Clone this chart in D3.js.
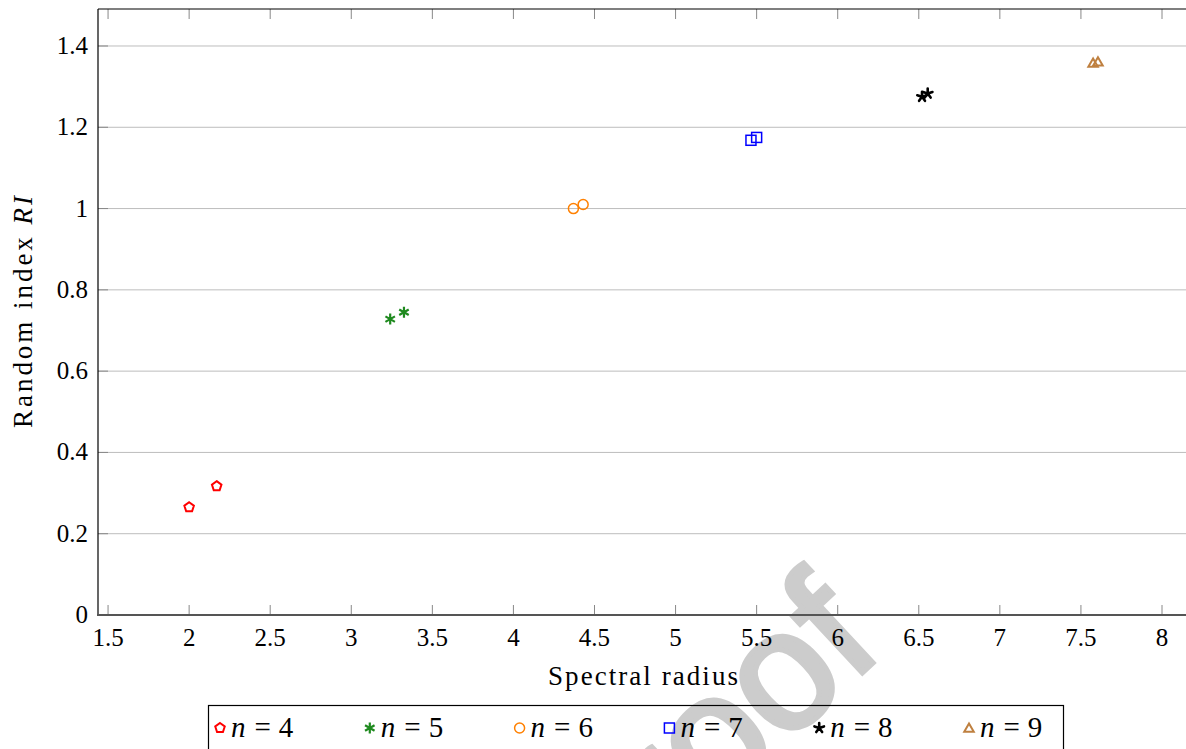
<!DOCTYPE html>
<html>
<head>
<meta charset="utf-8">
<script src="https://cdn.jsdelivr.net/npm/d3@7"></script>
<style>
body { margin: 0; background: #fff; }
text { font-family: "Liberation Serif", "DejaVu Serif", serif; }
</style>
</head>
<body>
<script>

// chart data
var nValues = [4, 5, 6, 7, 8, 9]
var radiusValues = [
	[2.00, 2.17],
	[3.24, 3.325],
	[4.37, 4.43],
	[5.465, 5.50],
	[6.52, 6.555],
	[7.575, 7.605]
]
var riValues = [
	[0.265, 0.317],
	[0.728, 0.745],
	[1.00, 1.01],
	[1.168, 1.175],
	[1.275, 1.283],
	[1.358, 1.361]
]
var xTicks = [1.5, 2, 2.5, 3, 3.5, 4, 4.5, 5, 5.5, 6, 6.5, 7, 7.5, 8]
var yTicks = [0, 0.2, 0.4, 0.6, 0.8, 1, 1.2, 1.4]

var colors = ["#ff0000", "#1f8a1f", "#ff8000", "#0000ff", "#000000", "#bf8040"]
var markKinds = ["pentagon", "asterisk", "circle", "square", "star", "triangle"]

var W = 1186, H = 749

var x = d3.scaleLinear().domain([1.438, 8.148]).range([98, 1186])
var y = d3.scaleLinear().domain([0, 1.491]).range([615, 9])

function polyPath(n, r, rot){
	var pts = []
	for (var k = 0; k < n; k++){
		var a = (rot + k * 360 / n) * Math.PI / 180
		pts.push([r * Math.cos(a), r * Math.sin(a)])
	}
	return "M" + pts.map(function(p){ return p[0].toFixed(2) + "," + p[1].toFixed(2) }).join("L") + "Z"
}
function spokePath(n, r, rot, both){
	var s = ""
	for (var k = 0; k < n; k++){
		var a = (rot + k * 360 / n) * Math.PI / 180
		var cx = r * Math.cos(a), cy = r * Math.sin(a)
		if (both) s += "M" + (-cx).toFixed(2) + "," + (-cy).toFixed(2) + "L" + cx.toFixed(2) + "," + cy.toFixed(2)
		else s += "M0,0L" + cx.toFixed(2) + "," + cy.toFixed(2)
	}
	return s
}

function drawMark(g, kind, color, cx, cy){
	var m = g.append("g").attr("transform", "translate(" + cx + "," + cy + ")")
	if (kind === "pentagon"){
		m.append("path").attr("d", polyPath(5, 5, -90)).style("fill", "none").style("stroke", color).style("stroke-width", 2)
	} else if (kind === "asterisk"){
		m.append("path").attr("d", spokePath(3, 5.5, 90, true)).style("stroke", color).style("stroke-width", 2.2)
	} else if (kind === "circle"){
		m.append("circle").attr("r", 5).style("fill", "none").style("stroke", color).style("stroke-width", 1.5)
	} else if (kind === "square"){
		m.append("rect").attr("x", -5).attr("y", -5).attr("width", 10).attr("height", 10).style("fill", "none").style("stroke", color).style("stroke-width", 1.5)
	} else if (kind === "star"){
		m.append("path").attr("d", spokePath(5, 5, -90, false)).style("stroke", color).style("stroke-width", 2.6).style("stroke-linecap", "round")
	} else if (kind === "triangle"){
		m.append("path").attr("d", polyPath(3, 5.5, -90)).attr("transform", "translate(0,1)").style("fill", "none").style("stroke", color).style("stroke-width", 2)
	}
}

var svg = d3.select("body").append("svg")
	.attr("width", W)
	.attr("height", H)

// watermark
svg.append("text")
	.attr("transform", "translate(592,925) rotate(-43)")
	.style("font-family", "'Liberation Sans', Arial, sans-serif")
	.style("font-size", "168px")
	.style("fill", "#cccccc")
	.style("stroke", "#cccccc")
	.style("stroke-width", 5)
	.text("Proof")

// grid
svg.selectAll("line.grid")
	.data(yTicks)
	.enter()
	.append("line")
	.attr("class", "grid")
	.attr("x1", 98).attr("x2", W)
	.attr("y1", function(d){ return y(d) })
	.attr("y2", function(d){ return y(d) })
	.style("stroke", "#bdbdbd")
	.style("stroke-width", 1)

// ticks, inward
svg.selectAll("line.xtb")
	.data(xTicks).enter().append("line").attr("class", "xtb")
	.attr("x1", function(d){ return x(d) }).attr("x2", function(d){ return x(d) })
	.attr("y1", 615).attr("y2", 605)
	.style("stroke", "#888").style("stroke-width", 1)
svg.selectAll("line.xtt")
	.data(xTicks).enter().append("line").attr("class", "xtt")
	.attr("x1", function(d){ return x(d) }).attr("x2", function(d){ return x(d) })
	.attr("y1", 9).attr("y2", 19)
	.style("stroke", "#888").style("stroke-width", 1)
svg.selectAll("line.yt")
	.data(yTicks).enter().append("line").attr("class", "yt")
	.attr("x1", 98).attr("x2", 108)
	.attr("y1", function(d){ return y(d) }).attr("y2", function(d){ return y(d) })
	.style("stroke", "#888").style("stroke-width", 1)

// frame
svg.append("line").attr("x1", 98).attr("x2", W).attr("y1", 9).attr("y2", 9).style("stroke", "#000").style("stroke-width", 1.2)
svg.append("line").attr("x1", 98).attr("x2", 98).attr("y1", 9).attr("y2", 615).style("stroke", "#000").style("stroke-width", 1.2)
svg.append("line").attr("x1", 97).attr("x2", W).attr("y1", 615).attr("y2", 615).style("stroke", "#555").style("stroke-width", 2)

// tick labels
svg.selectAll("text.xl")
	.data(xTicks).enter().append("text").attr("class", "xl")
	.attr("x", function(d){ return x(d) })
	.attr("y", 646)
	.attr("text-anchor", "middle")
	.style("font-size", "25px")
	.text(function(d){ return d })
svg.selectAll("text.yl")
	.data(yTicks).enter().append("text").attr("class", "yl")
	.attr("x", 88)
	.attr("y", function(d){ return y(d) + 8 })
	.attr("text-anchor", "end")
	.style("font-size", "25px")
	.text(function(d){ return d })

// axis titles
svg.append("text")
	.attr("x", 643).attr("y", 685)
	.attr("text-anchor", "middle")
	.attr("textLength", 190)
	.attr("lengthAdjust", "spacing")
	.style("font-size", "27px")
	.text("Spectral radius")
var yl = svg.append("text")
	.attr("transform", "translate(32,312) rotate(-90)")
	.attr("text-anchor", "middle")
	.attr("textLength", 232)
	.attr("lengthAdjust", "spacing")
	.style("font-size", "27px")
yl.append("tspan").text("Random index ")
yl.append("tspan").style("font-style", "italic").text("RI")

// points
var pts = svg.append("g")
nValues.forEach(function(n, i){
	radiusValues[i].forEach(function(r, j){
		drawMark(pts, markKinds[i], colors[i], x(r), y(riValues[i][j]))
	})
})

// legend
var leg = svg.append("g")
leg.append("rect")
	.attr("x", 208.5).attr("y", 705.5)
	.attr("width", 855).attr("height", 60)
	.style("fill", "none")
	.style("stroke", "#000").style("stroke-width", 1.2)
nValues.forEach(function(n, i){
	var lx = 220 + i * 149.8
	drawMark(leg, markKinds[i], colors[i], lx, 728)
	var t = leg.append("text")
		.attr("x", lx + 11).attr("y", 737)
		.style("font-size", "29px")
	t.append("tspan").style("font-style", "italic").text("n")
	t.append("tspan").attr("dx", 9).text("=")
	t.append("tspan").attr("dx", 8).text(n)
})

</script>
</body>
</html>
